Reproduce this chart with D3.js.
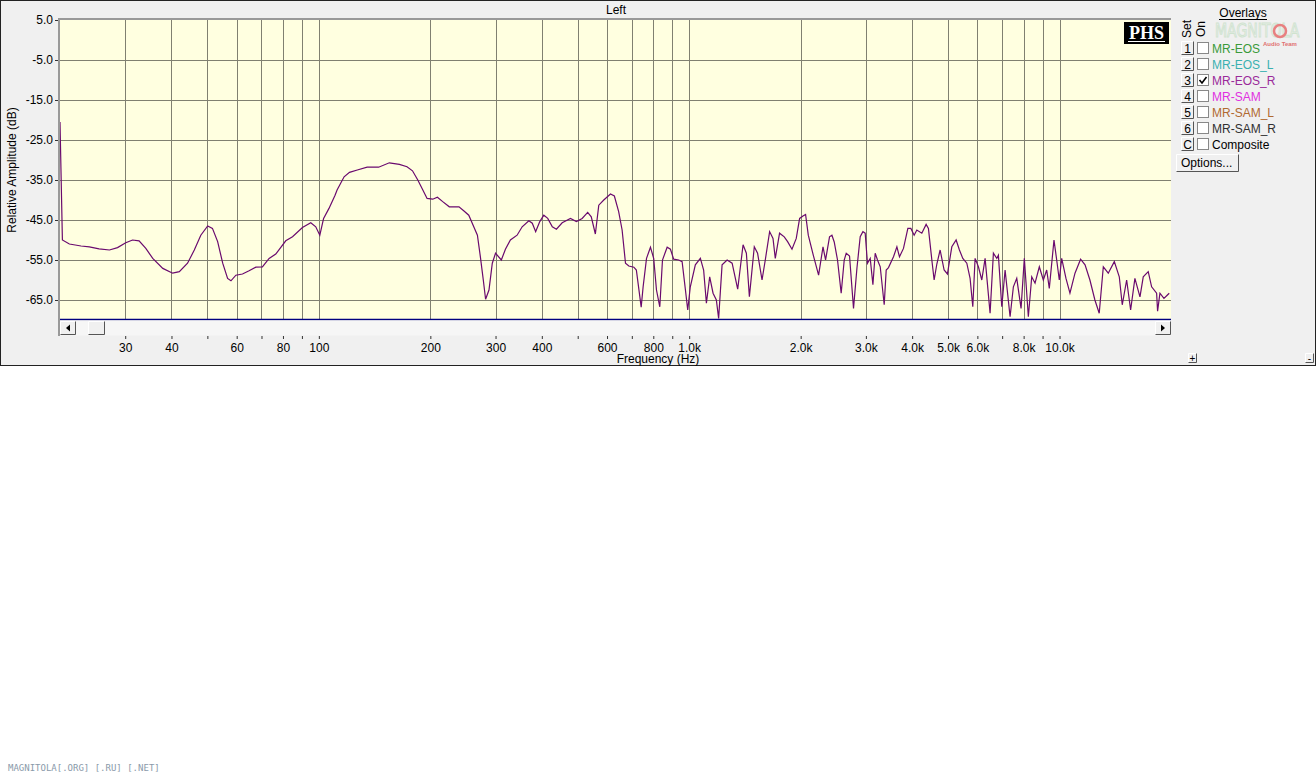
<!doctype html>
<html lang="en">
<head>
<meta charset="utf-8" />
<title>Left</title>
<script src="https://d3js.org/d3.v7.min.js"></script>
<style>
    body { margin: 0; background: #fff; }
</style>
</head>
<body>
<div id="chart"></div>
<script>
// measured response, MR-EOS_R overlay
const freqs = [20, 20.3, 21.2, 22.8, 24.0, 25.5, 27.2, 28.6, 30.1, 31.4, 32.7, 34.1, 35.6, 37.9, 40.3, 42.0, 44.2, 46.1, 48.0,
    50.1, 51.6, 53.3, 55.0, 56.7, 57.9, 59.7, 62.2, 64.8, 67.6, 70.4, 73.4, 76.5, 81.4, 84.9, 90.3, 95.1, 98.1, 100.6,
    103, 106.5, 110.6, 112, 117, 121, 127, 135, 145, 155, 165, 173, 179, 185, 190, 196, 203, 209, 216, 225, 239, 247,
    254, 262, 268, 273, 278, 282, 288, 294, 300, 311, 319, 329, 343, 354, 369, 377, 385, 395, 405, 415, 427, 438, 454,
    478, 496, 514, 532, 544, 558, 570, 588, 613, 628, 645, 659, 673, 687, 709, 720, 742, 751, 767, 786, 802, 816, 833,
    847, 872, 890, 908, 937, 957, 977, 991, 1007, 1039, 1072, 1094, 1113, 1136, 1160, 1184, 1201, 1227, 1266, 1306,
    1352, 1398, 1427, 1454, 1499, 1530, 1573, 1605, 1649, 1684, 1708, 1754, 1806, 1844, 1895, 1946, 1987, 2029, 2062,
    2097, 2163, 2236, 2298, 2335, 2393, 2429, 2464, 2515, 2573, 2622, 2655, 2710, 2778, 2838, 2896, 2945, 2987, 3030,
    3082, 3134, 3179, 3225, 3280, 3362, 3404, 3453, 3562, 3638, 3697, 3790, 3895, 3968, 4050, 4118, 4248, 4363, 4426,
    4521, 4586, 4664, 4760, 4880, 4981, 5119, 5258, 5367, 5481, 5619, 5735, 5832, 5916, 6039, 6168, 6296, 6494, 6629,
    6770, 6838, 6984, 7129, 7354, 7506, 7665, 7873, 8035, 8238, 8414, 8588, 8820, 9042, 9234, 9384, 9662, 9826, 9986,
    10136, 10410, 10670, 11010, 11400, 11720, 12080, 12460, 12800, 13130, 13540, 14060, 14500, 14770, 15180, 15560,
    15980, 16490, 16830, 17360, 17730, 18290, 18400, 18670, 19140, 19530, 19780];
const dbs = [-20.5, -50.0, -51.0, -51.5, -51.7, -52.2, -52.5, -51.9, -50.7, -50.0, -50.2, -52.1, -54.6, -57.1, -58.3, -57.9, -55.8, -52.5, -48.8,
    -46.5, -47.1, -50.4, -55.8, -59.6, -60.2, -58.8, -58.5, -57.7, -56.8, -56.7, -54.6, -53.5, -50.2, -49.2, -46.9, -45.7, -46.7, -48.8,
    -44.6, -42.1, -38.8, -37.5, -34.2, -33.1, -32.5, -31.8, -31.8, -30.7, -31.1, -31.7, -32.7, -35.0, -37.1, -39.6, -39.8, -39.3, -40.4, -41.7, -41.7, -42.8,
    -43.8, -46.7, -48.8, -54.2, -60.0, -64.8, -62.5, -55.8, -53.3, -55.0, -52.3, -50.0, -48.8, -46.7, -45.2, -45.8, -47.9, -45.4, -43.8, -44.6, -46.7, -47.3, -45.7,
    -44.6, -45.4, -44.6, -43.1, -44.2, -48.5, -41.3, -40.0, -38.5, -39.0, -42.9, -47.5, -55.8, -56.5, -56.8, -57.5, -66.8, -61.7, -54.6, -51.8, -54.6, -62.5, -66.7,
    -55.0, -51.8, -52.3, -54.8, -55.0, -55.4, -62.5, -67.5, -61.7, -56.2, -54.6, -57.5, -65.8, -59.2, -63.3, -65.0, -69.6, -56.2, -55.0, -55.8,
    -62.3, -51.2, -53.3, -64.2, -51.7, -53.3, -60.0, -55.0, -47.9, -49.6, -54.6, -48.3, -49.2, -50.4, -52.3, -49.6, -44.6, -44.0, -43.6,
    -48.8, -53.8, -58.8, -51.7, -55.0, -49.2, -48.8, -50.5, -55.0, -63.3, -55.0, -53.3, -54.0, -67.1, -57.0, -49.2, -47.9, -48.3, -55.8,
    -54.6, -61.2, -53.3, -55.0, -56.7, -66.2, -57.5, -56.9, -54.2, -51.7, -54.2, -52.1, -47.1, -47.1, -48.8, -47.5, -48.3, -46.1, -47.1,
    -55.0, -60.0, -56.0, -52.5, -57.5, -58.5, -51.7, -50.0, -52.5, -54.6, -55.8, -59.6, -66.7, -54.6, -56.7, -60.0, -54.6, -68.3, -53.3,
    -54.6, -53.8, -66.7, -57.5, -69.2, -61.7, -59.6, -67.1, -54.6, -69.2, -59.2, -60.8, -56.7, -60.0, -57.5, -62.1, -50.0, -55.0, -60.0,
    -54.6, -59.6, -63.3, -58.3, -54.8, -56.2, -60.0, -65.0, -68.3, -56.7, -58.3, -55.4, -59.2, -66.2, -60.0, -67.5,
    -59.6, -64.2, -59.2, -57.9, -61.7, -63.3, -67.8, -63.3, -64.6, -63.8, -63.3];

const gridFreqs = [30, 40, 50, 60, 70, 80, 90, 100, 200, 300, 400, 500, 600, 700, 800, 900, 1000, 2000, 3000, 4000,
    5000, 6000, 7000, 8000, 9000, 10000];
const tickFreqs = [30, 40, 60, 80, 100, 200, 300, 400, 600, 800, 1000, 2000, 3000, 4000, 5000, 6000, 8000, 10000];
const tickLabels = ["30", "40", "60", "80", "100", "200", "300", "400", "600", "800", "1.0k", "2.0k", "3.0k", "4.0k",
    "5.0k", "6.0k", "8.0k", "10.0k"];
const dbTicks = [5, -5, -15, -25, -35, -45, -55, -65];

const overlayNames = ["MR-EOS", "MR-EOS_L", "MR-EOS_R", "MR-SAM", "MR-SAM_L", "MR-SAM_R", "Composite"];
const overlayKeys = ["1", "2", "3", "4", "5", "6", "C"];
const overlayColors = ["#3a9a3a", "#3ab0b0", "#9a2a9a", "#e030e0", "#b06a30", "#303030", "#000000"];
const overlayOn = [false, false, true, false, false, false, false];

const W = 1316, H = 777;
const FONT = "Liberation Sans, Arial, sans-serif";
const svg = d3.select("#chart").append("svg").attr("width", W).attr("height", H).attr("font-family", FONT);

svg.append("rect").attr("width", W).attr("height", H).attr("fill", "#fff");
// panel
svg.append("rect").attr("x", 0.5).attr("y", 0.5).attr("width", W - 1).attr("height", 365)
    .attr("fill", "#f0f0f0").attr("stroke", "#222");

const x = d3.scaleLog().domain([20, 20000]).range([60, 1171]);
const y = d3.scaleLinear().domain([-70, 5]).range([320, 20]);

// plot area
svg.append("rect").attr("x", 60).attr("y", 20).attr("width", 1111).attr("height", 300).attr("fill", "#ffffe0");

const grid = svg.append("g").attr("stroke", "#808070").attr("stroke-width", 1);
grid.selectAll(".vg").data(gridFreqs).join("line")
    .attr("x1", d => Math.round(x(d)) + 0.5).attr("x2", d => Math.round(x(d)) + 0.5)
    .attr("y1", 20).attr("y2", 320);
grid.selectAll(".hg").data(dbTicks.slice(1)).join("line")
    .attr("x1", 60).attr("x2", 1171)
    .attr("y1", d => Math.round(y(d)) + 0.5).attr("y2", d => Math.round(y(d)) + 0.5);

// frame top / left
svg.append("line").attr("x1", 58).attr("x2", 1171).attr("y1", 19).attr("y2", 19).attr("stroke", "#999").attr("stroke-width", 2);
svg.append("line").attr("x1", 59).attr("x2", 59).attr("y1", 18).attr("y2", 336).attr("stroke", "#999").attr("stroke-width", 2);

// curve
svg.append("clipPath").attr("id", "clip").append("rect").attr("x", 60).attr("y", 20).attr("width", 1111).attr("height", 300);
const pts = freqs.map((f, i) => [f, dbs[i]]);
svg.append("path").datum(pts)
    .attr("clip-path", "url(#clip)")
    .attr("fill", "none").attr("stroke", "#6a0a6e").attr("stroke-width", 1.2)
    .attr("d", d3.line().x(d => x(d[0])).y(d => y(d[1])));

svg.append("line").attr("x1", 60).attr("x2", 1171).attr("y1", 319.5).attr("y2", 319.5).attr("stroke", "#000080").attr("stroke-width", 1.5);

// scrollbar
svg.append("rect").attr("x", 60).attr("y", 320.5).attr("width", 1111).attr("height", 15).attr("fill", "#f6f6f6");
function btn(bx, by, bw, bh) {
    const g = svg.append("g");
    g.append("rect").attr("x", bx).attr("y", by).attr("width", bw).attr("height", bh).attr("fill", "#f0f0f0");
    g.append("path").attr("d", `M${bx + 0.5},${by + bh - 0.5}V${by + 0.5}H${bx + bw - 0.5}`).attr("fill", "none").attr("stroke", "#fff");
    g.append("path").attr("d", `M${bx + 0.5},${by + bh - 0.5}H${bx + bw - 0.5}V${by + 0.5}`).attr("fill", "none").attr("stroke", "#555");
    return g;
}
btn(60, 321, 16, 14);
svg.append("path").attr("d", "M66,328 L70,324.5 L70,331.5 Z").attr("fill", "#000");
btn(1155, 321, 16, 14);
svg.append("path").attr("d", "M1165,328 L1161,324.5 L1161,331.5 Z").attr("fill", "#000");
btn(88, 321, 17, 14);

// axes
const yAxis = d3.axisLeft(y).tickValues(dbTicks).tickFormat(d => d.toFixed(1)).tickSize(3).tickPadding(2);
svg.append("g").attr("transform", "translate(58,0)").call(yAxis)
    .call(g => g.select(".domain").remove())
    .call(g => g.selectAll("line").attr("stroke", "#333"))
    .call(g => g.selectAll("text").attr("font-size", 12).attr("fill", "#000").attr("font-family", FONT));

const xAxis = d3.axisBottom(x).tickValues(gridFreqs).tickSize(3).tickPadding(4)
    .tickFormat(d => { const i = tickFreqs.indexOf(d); return i >= 0 ? tickLabels[i] : ""; });
svg.append("g").attr("transform", "translate(0,336)").call(xAxis)
    .call(g => g.select(".domain").remove())
    .call(g => g.selectAll("line").attr("stroke", "#333"))
    .call(g => g.selectAll("text").attr("font-size", 12).attr("fill", "#000").attr("font-family", FONT));

svg.append("text").attr("x", 658).attr("y", 363).attr("text-anchor", "middle").attr("font-size", 12).text("Frequency (Hz)");
svg.append("text").attr("x", 616).attr("y", 14).attr("text-anchor", "middle").attr("font-size", 12).text("Left");
svg.append("text").attr("transform", "translate(16,170) rotate(-90)").attr("text-anchor", "middle")
    .attr("font-size", 12).text("Relative Amplitude (dB)");

// PHS badge
svg.append("rect").attr("x", 1124).attr("y", 22).attr("width", 45).attr("height", 22).attr("fill", "#000");
svg.append("text").attr("x", 1146.5).attr("y", 39).attr("text-anchor", "middle").attr("fill", "#fff")
    .attr("font-family", "Liberation Serif, DejaVu Serif, serif").attr("font-weight", "bold").attr("font-size", 18).text("PHS");
svg.append("line").attr("x1", 1128).attr("x2", 1165).attr("y1", 41.5).attr("y2", 41.5).attr("stroke", "#fff");

// faint logo
svg.append("text").attr("transform", "translate(1215,37) scale(0.78,1)")
    .attr("font-family", "Liberation Sans Narrow, DejaVu Sans Condensed, sans-serif")
    .attr("font-size", 20).attr("fill", "none").attr("stroke", "#cfe3cf").attr("stroke-width", 1).text("MAGNITOLA");
svg.append("circle").attr("cx", 1280).attr("cy", 31).attr("r", 6).attr("fill", "none").attr("stroke", "#e88080").attr("stroke-width", 2.5);
svg.append("text").attr("x", 1263).attr("y", 46).attr("font-size", 6).attr("font-weight", "bold").attr("fill", "#e07070").text("Audio Team");

// overlays panel
svg.append("text").attr("x", 1243).attr("y", 17).attr("text-anchor", "middle").attr("font-size", 12).text("Overlays");
svg.append("line").attr("x1", 1219).attr("x2", 1267).attr("y1", 19.5).attr("y2", 19.5).attr("stroke", "#000");
svg.append("text").attr("transform", "translate(1191,29) rotate(-90)").attr("text-anchor", "middle").attr("font-size", 12).text("Set");
svg.append("text").attr("transform", "translate(1205,29) rotate(-90)").attr("text-anchor", "middle").attr("font-size", 12).text("On");

const rows = svg.append("g").selectAll("g").data(overlayNames).join("g")
    .attr("transform", (d, i) => `translate(0,${48 + i * 16})`);
rows.each(function (d, i) {
    const r = d3.select(this);
    r.append("rect").attr("x", 1181).attr("y", -7).attr("width", 13).attr("height", 14).attr("fill", "#f0f0f0");
    r.append("path").attr("d", "M1181.5,6.5V-6.5H1193.5").attr("fill", "none").attr("stroke", "#fff");
    r.append("path").attr("d", "M1181.5,6.5H1193.5V-6.5").attr("fill", "none").attr("stroke", "#555");
    r.append("text").attr("x", 1187.5).attr("y", 5).attr("text-anchor", "middle").attr("font-size", 12).text(overlayKeys[i]);
    r.append("rect").attr("x", 1197.5).attr("y", -5.5).attr("width", 11).attr("height", 11).attr("fill", "#fff").attr("stroke", "#888");
    if (overlayOn[i]) {
        r.append("path").attr("d", "M1199.5,0 L1202,3 L1206.5,-3").attr("fill", "none").attr("stroke", "#000").attr("stroke-width", 1.6);
    }
    r.append("text").attr("x", 1212).attr("y", 5).attr("font-size", 12).attr("fill", overlayColors[i]).text(d);
});

btn(1176, 154, 63, 18);
svg.append("text").attr("x", 1181).attr("y", 167).attr("font-size", 12).text("Options...");

// +/- corners
[[1188, "+"], [1305, "-"]].forEach(([bx, s]) => {
    btn(bx, 353, 9, 10);
    svg.append("text").attr("x", bx + 4.5).attr("y", 362).attr("text-anchor", "middle").attr("font-size", 10).text(s);
});

svg.append("text").attr("x", 8).attr("y", 771).attr("font-family", "DejaVu Sans Mono, monospace").attr("font-size", 9)
    .attr("fill", "#8a9aaa").text("MAGNITOLA[.ORG] [.RU] [.NET]");
</script>
</body>
</html>
